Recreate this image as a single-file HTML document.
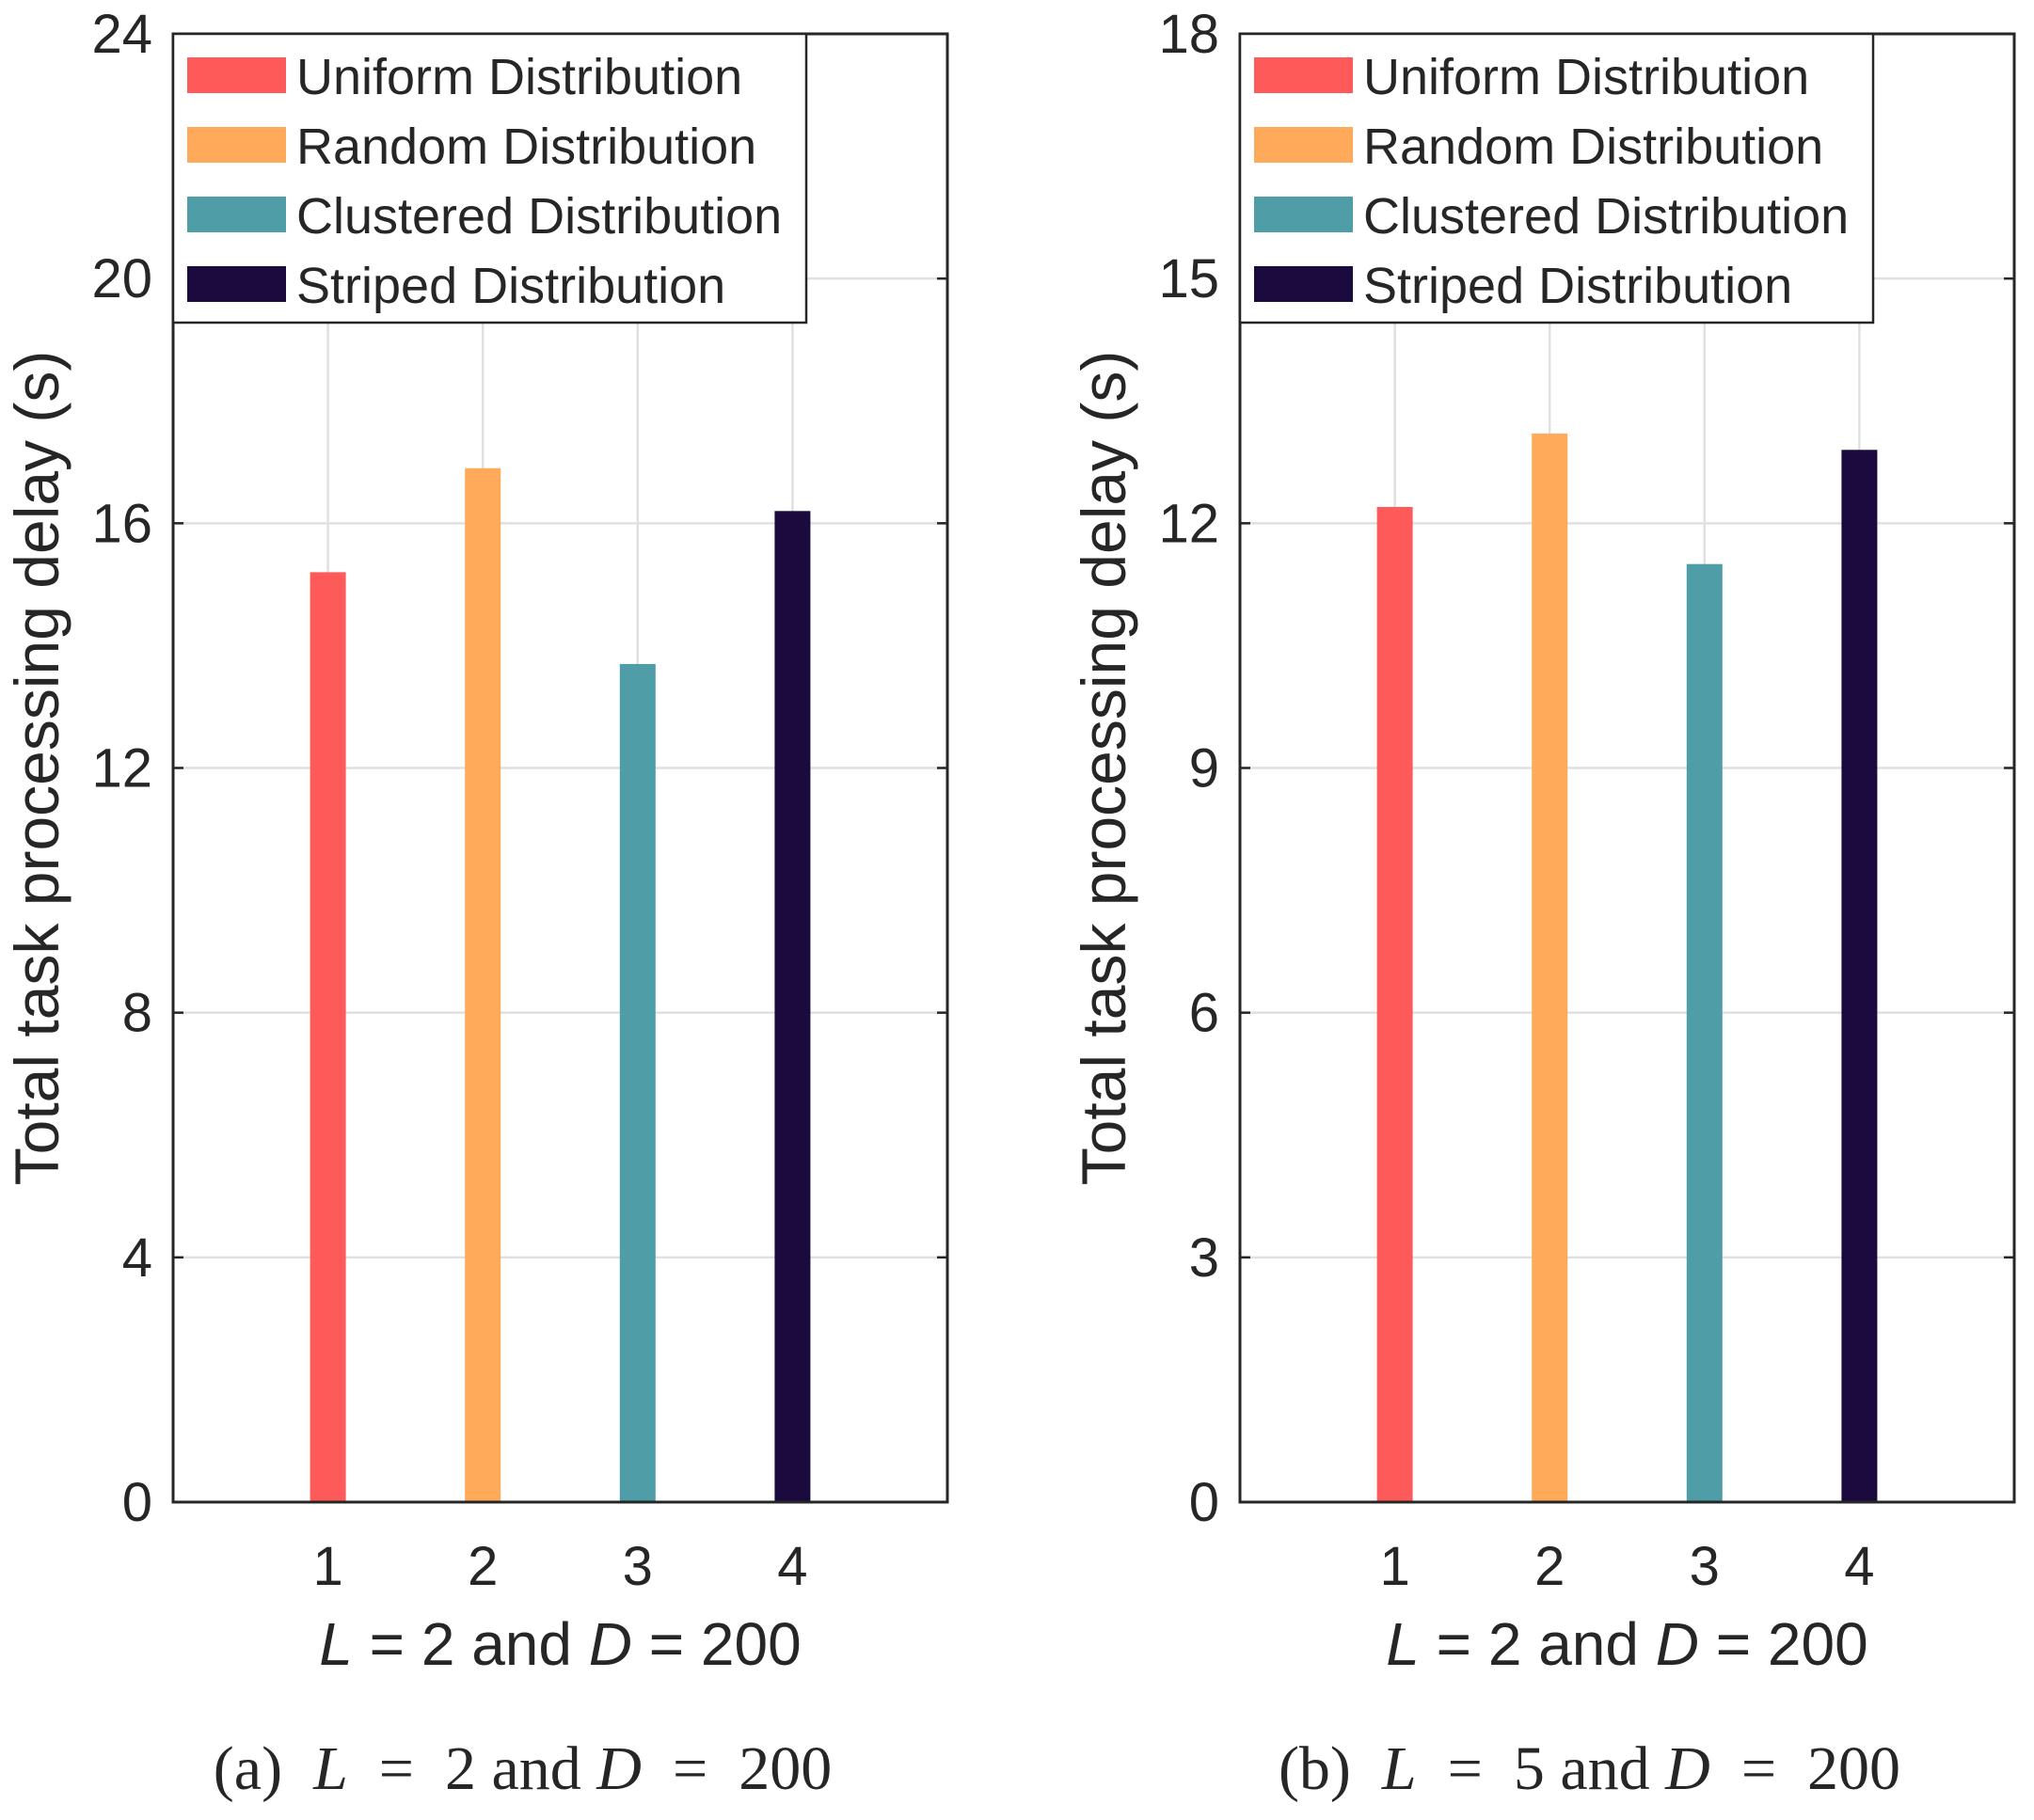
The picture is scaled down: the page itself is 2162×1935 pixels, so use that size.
<!DOCTYPE html>
<html><head><meta charset="utf-8"><style>
html,body{margin:0;padding:0;background:#fff;}
svg{display:block;}
text{font-family:"Liberation Sans",sans-serif;fill:#262626;}
</style></head><body>
<svg id="fig" width="2162" height="1935" viewBox="0 0 2162 1935" xmlns="http://www.w3.org/2000/svg"></svg>
<script>
const categories = [1, 2, 3, 4];
const seriesNames = ["Uniform Distribution", "Random Distribution", "Clustered Distribution", "Striped Distribution"];
const colors = ["#ff5a5a", "#ffaa5a", "#4f9ea7", "#1b0a3e"];
const valuesA = [15.2, 16.9, 13.7, 16.2];
const valuesB = [12.2, 13.1, 11.5, 12.9];
const ticksA = [0, 4, 8, 12, 16, 20, 24];
const ticksB = [0, 3, 6, 9, 12, 15, 18];
const xlabelText = "= 2 and";
const captionA = ["(a)", "2"];
const captionB = ["(b)", "5"];

const NS = "http://www.w3.org/2000/svg";
const svg = document.getElementById("fig");
function mk(tag, attrs, parent) {
  const e = document.createElementNS(NS, tag);
  for (const k in attrs) e.setAttribute(k, attrs[k]);
  (parent || svg).appendChild(e);
  return e;
}
const S = '\u00a0';

function panel(px, values, ticks, cap, id) {
  const L = px, R = px + 823, T = 36, B = 1597;
  const ymax = ticks[ticks.length - 1];
  const xs = v => L + (R - L) * v / 5;
  const ys = v => B - (B - T) * v / ymax;
  const g = mk("g", {});
  
  
  ticks.forEach(t => {
    const l = mk("line", {x1: L, x2: R, y1: ys(t), y2: ys(t), stroke: "#e0e0e0", "stroke-width": 2.5}, g);
    
    
  });
  categories.forEach(c => {
    const l = mk("line", {x1: xs(c), x2: xs(c), y1: T, y2: B, stroke: "#e0e0e0", "stroke-width": 2.5}, g);
    
    
  });
  categories.forEach((c, i) => {
    const b = mk("rect", {x: xs(c) - 19, y: ys(values[i]), width: 38, height: B - ys(values[i]), fill: colors[i]}, g);
    
    
  });
  const box = mk("rect", {x: L, y: T, width: R - L, height: B - T, fill: "none", stroke: "#262626", "stroke-width": 3}, g);
  
  
  ticks.forEach(t => {
    mk("line", {x1: L, x2: L + 11, y1: ys(t), y2: ys(t), stroke: "#262626", "stroke-width": 2.5}, g);
    mk("line", {x1: R, x2: R - 11, y1: ys(t), y2: ys(t), stroke: "#262626", "stroke-width": 2.5}, g);
    const tx = mk("text", {x: L - 22, y: ys(t) + 20, "text-anchor": "end", "font-size": 58}, g);
    tx.textContent = t;
    
    
  });
  categories.forEach(c => {
    const tx = mk("text", {x: xs(c), y: 1685, "text-anchor": "middle", "font-size": 58}, g);
    tx.textContent = c;
    
    
  });
  const xl = mk("text", {x: (L + R) / 2, y: 1770, "text-anchor": "middle", "font-size": 64}, g);
  
  
  xl.innerHTML = '<tspan font-style="italic">L</tspan> ' + xlabelText + ' <tspan font-style="italic">D</tspan> = 200';
  const yl = mk("text", {x: 0, y: 0, "text-anchor": "middle", "font-size": 66, transform: `translate(${L - 122},${(T + B) / 2}) rotate(-90)`}, g);
  yl.textContent = "Total task processing delay (s)";
  
  
  const lg = mk("g", {}, g);
  
  
  mk("rect", {x: L, y: T, width: 673, height: 307, fill: "#fff", stroke: "#262626", "stroke-width": 2.5}, lg);
  seriesNames.forEach((n, i) => {
    const y0 = 61 + i * 74;
    const sw = mk("rect", {x: L + 15, y: y0, width: 105, height: 38, fill: colors[i]}, lg);
    
    
    const tx = mk("text", {x: L + 131, y: y0 + 39, "font-size": 54, fill: "#000"}, lg);
    tx.textContent = n;
    
    
  });
  const cp = mk("text", {x: (L + R) / 2 - 40, y: 1902, "text-anchor": "middle", "font-size": 66, style: "font-family:'Liberation Serif',serif", fill: "#000"}, g);
  
  
  cp.textContent = '';
  cp.innerHTML = cap[0] + S + S + '<tspan font-style="italic">L</tspan>' + S + S + '=' + S + S + cap[1] + ' and ' + '<tspan font-style="italic">D</tspan>' + S + S + '=' + S + S + '200';
}
panel(184, valuesA, ticksA, captionA, "a");
panel(1318, valuesB, ticksB, captionB, "b");
</script>
</body></html>
